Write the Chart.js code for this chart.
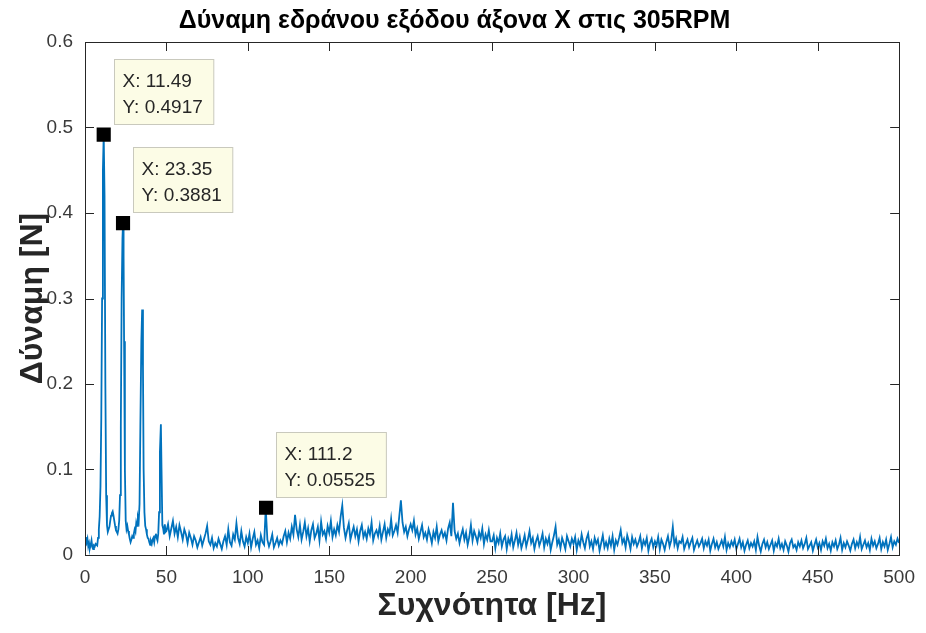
<!DOCTYPE html>
<html>
<head>
  <meta charset="utf-8" />
  <title>Δύναμη εδράνου</title>
  <script src="https://cdn.jsdelivr.net/npm/chart.js"></script>
  <style>
    html, body {
      margin: 0;
      padding: 0;
      background: #fff;
    }
  </style>
</head>
<body>
  <canvas id="fft" width="926" height="633"></canvas>

  <script>
    // Low range 0-50 Hz, read point by point (includes the 4 harmonics)
    const lowFreq = [
      0, 0.5, 1, 1.5, 2, 2.5, 3, 3.5, 4, 4.5, 5, 5.5, 6, 6.5, 7, 7.5, 8, 8.5, 9, 9.5,
      10, 10.5, 11, 11.49, 12, 12.5, 13, 13.5, 14, 14.5, 15, 15.5, 16, 16.5, 17, 17.5, 18, 18.5, 19, 19.5,
      20, 20.5, 21, 21.5, 22, 22.5, 23, 23.35, 23.7, 24, 24.5, 25, 25.5, 26, 26.5, 27, 27.5, 28, 28.5, 29, 29.5,
      30, 30.5, 31, 31.5, 32, 32.5, 33, 33.5, 34, 34.6, 35.1, 35.6, 36, 36.5, 37, 37.5, 38, 38.5, 39, 39.5,
      40, 40.5, 41, 41.5, 42, 42.5, 43, 43.5, 44, 44.5, 45, 45.5, 46, 46.6, 47, 47.5, 48, 48.5, 49, 49.5
    ];
    const lowAmp = [
      0.012, 0.021, 0.015, 0.019, 0.010, 0.014, 0.008, 0.012, 0.017, 0.009, 0.007, 0.011, 0.010, 0.013, 0.012, 0.011, 0.020, 0.030, 0.045, 0.080,
      0.160, 0.300, 0.450, 0.4917, 0.420, 0.200, 0.070, 0.035, 0.027, 0.030, 0.033, 0.040, 0.046, 0.049, 0.051, 0.046, 0.040, 0.034, 0.029, 0.027,
      0.025, 0.030, 0.040, 0.070, 0.150, 0.300, 0.370, 0.3881, 0.350, 0.250, 0.100, 0.040, 0.030, 0.034, 0.028, 0.024, 0.019, 0.015, 0.018, 0.022, 0.020,
      0.025, 0.030, 0.027, 0.038, 0.034, 0.044, 0.040, 0.060, 0.150, 0.250, 0.287, 0.220, 0.100, 0.050, 0.034, 0.030, 0.024, 0.020, 0.019, 0.015,
      0.012, 0.016, 0.013, 0.018, 0.020, 0.015, 0.022, 0.025, 0.020, 0.017, 0.025, 0.050, 0.120, 0.153, 0.100, 0.035, 0.031, 0.024, 0.036, 0.027
    ];

    // Noise floor 50-500 Hz, one value per Hz, in thousandths of N
    const noiseStartHz = 50;
    const noiseStepHz = 1;
    const noiseMilli = [
      28, 36, 22, 31, 40, 25, 33, 21, 35, 27,
      18, 30, 24, 14, 26, 20, 12, 22, 17, 9,
      15, 21, 11, 18, 25, 34, 16, 12, 20, 8,
      14, 10, 19, 13, 7, 16, 22, 12, 30, 15,
      11, 24, 18, 37, 20, 13, 28, 16, 10, 21,
      14, 25, 9, 19, 27, 12, 17, 8, 23, 15,
      12, 55, 18, 10, 16, 24, 9, 14, 20, 11,
      17, 13, 22, 28, 15, 26, 19, 33, 24, 47,
      30, 21, 35, 18, 27, 38, 22, 31, 16, 29,
      36, 20, 25, 33, 17, 39, 24, 28, 19, 34,
      26, 40, 21, 30, 23, 35, 27, 45, 58, 32,
      20, 29, 37, 18, 26, 33, 22, 30, 16, 28,
      35, 21, 27, 19, 31, 24, 38, 17, 25, 29,
      22, 34, 18, 27, 36, 20, 30, 25, 42, 23,
      28, 35, 26, 45, 64, 38, 27, 33, 22, 30,
      36, 29, 40, 24, 31, 19, 27, 35, 21, 26,
      18, 30, 23, 14, 27, 20, 33, 16, 24, 29,
      21, 26, 17, 31, 38, 22, 61, 28, 19, 25,
      14, 23, 30, 18, 26, 12, 21, 35, 17, 28,
      22, 15, 27, 20, 31, 13, 24, 18, 29, 16,
      16, 23, 8, 20, 14, 25, 10, 18, 22, 7,
      19, 13, 24, 9, 17, 26, 12, 21, 8, 15,
      23, 10, 18, 28, 14, 20, 7, 16, 22, 11,
      17, 25, 9, 19, 13, 21, 6, 15, 23, 33,
      12, 18, 8, 20, 14, 7, 22, 16, 10, 19,
      13, 21, 6, 17, 11, 24, 15, 8, 19, 25,
      10, 16, 7, 20, 13, 18, 5, 14, 23, 9,
      15, 8, 19, 11, 22, 6, 17, 12, 20, 29,
      14, 19, 9, 23, 16, 7, 21, 13, 18, 10,
      15, 22, 8, 17, 12, 20, 5, 14, 19, 9,
      16, 11, 21, 7, 18, 13, 6, 15, 22, 10,
      17, 33, 12, 19, 8, 16, 14, 21, 7, 13,
      18, 9, 15, 20, 6, 12, 17, 10, 14, 19,
      8, 16, 11, 18, 5, 13, 19, 9, 15, 7,
      12, 17, 10, 21, 6, 14, 9, 16, 11, 18,
      7, 13, 19, 9, 15, 5, 12, 17, 8, 14,
      10, 16, 6, 21, 11, 4, 13, 18, 9, 15,
      7, 12, 17, 5, 14, 10, 19, 8, 13, 6,
      16, 11, 4, 14, 18, 9, 12, 6, 15, 10,
      17, 8, 13, 20, 7, 11, 15, 5, 12, 18,
      9, 14, 6, 16, 11, 19, 8, 13, 5, 15,
      10, 17, 7, 12, 20, 6, 14, 9, 16, 11,
      5, 13, 18, 8, 15, 10, 21, 7, 12, 17,
      9, 14, 6, 19, 11, 16, 8, 13, 20, 7,
      15, 10, 18, 6, 13, 21, 9, 16, 12, 19,
      14
    ];

    // Data tips
    const tipFreq = [11.49, 23.35, 111.2];
    const tipAmp = [0.4917, 0.3881, 0.05525];

    const xTicks = [0, 50, 100, 150, 200, 250, 300, 350, 400, 450, 500];
    const yTicks = [0, 0.1, 0.2, 0.3, 0.4, 0.5, 0.6];

    const FONT = "'Liberation Sans', Arial, sans-serif";
    const AXIS_COLOR = '#262626';

    const spectrum = lowFreq.map((f, i) => ({ x: f, y: lowAmp[i] }))
      .concat(noiseMilli.map((v, i) => ({ x: noiseStartHz + i * noiseStepHz, y: v / 1000 })));
    const tipPoints = tipFreq.map((f, i) => ({ x: f, y: tipAmp[i] }));

    // box + inward ticks like MATLAB
    const axesBox = {
      id: 'axesBox',
      afterDatasetsDraw(chart) {
        const { ctx, chartArea: a, scales: { x, y } } = chart;
        const len = 9;
        ctx.save();
        ctx.strokeStyle = AXIS_COLOR;
        ctx.lineWidth = 1;
        ctx.beginPath();
        xTicks.forEach(t => {
          const px = Math.round(x.getPixelForValue(t)) + 0.5;
          ctx.moveTo(px, a.bottom); ctx.lineTo(px, a.bottom - len);
          ctx.moveTo(px, a.top); ctx.lineTo(px, a.top + len);
        });
        yTicks.forEach(t => {
          const py = Math.round(y.getPixelForValue(t)) + 0.5;
          ctx.moveTo(a.left, py); ctx.lineTo(a.left + len, py);
          ctx.moveTo(a.right, py); ctx.lineTo(a.right - len, py);
        });
        ctx.stroke();
        ctx.strokeRect(Math.round(a.left) + 0.5, Math.round(a.top) + 0.5,
          Math.round(a.right - a.left), Math.round(a.bottom - a.top));
        ctx.restore();
      }
    };

    // data tip boxes
    const dataTips = {
      id: 'dataTips',
      afterDraw(chart) {
        const { ctx, scales: { x, y } } = chart;
        ctx.save();
        ctx.font = '19px ' + FONT;
        ctx.textBaseline = 'middle';
        tipPoints.forEach(p => {
          const px = x.getPixelForValue(p.x);
          const py = y.getPixelForValue(p.y);
          const l1 = 'X: ' + p.x.toPrecision(4);
          const l2 = 'Y: ' + p.y.toPrecision(4);
          const w = Math.max(ctx.measureText(l1).width, ctx.measureText(l2).width) + 19;
          const left = Math.round(px + 10) + 0.5;
          const top = Math.round(py - 76) + 0.5;
          ctx.fillStyle = '#fcfce6';
          ctx.strokeStyle = '#c9c9bd';
          ctx.lineWidth = 1;
          ctx.fillRect(left, top, w, 65);
          ctx.strokeRect(left, top, w, 65);
          ctx.fillStyle = '#262626';
          ctx.fillText(l1, left + 8, top + 22);
          ctx.fillText(l2, left + 8, top + 48);
        });
        ctx.restore();
      }
    };

    new Chart(document.getElementById('fft'), {
      type: 'line',
      data: {
        datasets: [
          {
            type: 'scatter',
            data: tipPoints,
            pointStyle: 'rect',
            pointRadius: 10,
            pointBackgroundColor: '#000',
            pointBorderWidth: 0,
            order: 0
          },
          {
            data: spectrum,
            borderColor: '#0072BD',
            borderWidth: 1.8,
            pointRadius: 0,
            tension: 0,
            order: 1
          }
        ]
      },
      options: {
        responsive: false,
        animation: false,
        events: [],
        layout: { padding: { top: 0, right: 17, bottom: 0, left: 0 } },
        plugins: {
          legend: { display: false },
          tooltip: { enabled: false },
          title: {
            display: true,
            text: 'Δύναμη εδράνου εξόδου άξονα X στις 305RPM',
            color: '#000',
            font: { family: FONT, size: 25, weight: 'bold', lineHeight: 1.2 },
            padding: { top: 6, bottom: 6 }
          }
        },
        scales: {
          x: {
            type: 'linear',
            min: 0,
            max: 500,
            afterFit: s => { s.height = 78; },
            afterBuildTicks: s => { s.ticks = xTicks.map(v => ({ value: v })); },
            grid: { display: false, drawTicks: false, tickLength: 0 },
            border: { display: false },
            ticks: {
              color: '#3a3a3a',
              font: { family: FONT, size: 19 },
              padding: 11,
              maxRotation: 0,
              autoSkip: false
            },
            title: {
              display: true,
              text: 'Συχνότητα [Hz]',
              color: '#262626',
              font: { family: FONT, size: 32, weight: 'bold', lineHeight: 1.2 },
              padding: { top: 0, bottom: 8 }
            }
          },
          y: {
            min: 0,
            max: 0.6,
            afterFit: s => { s.width = 85; },
            afterBuildTicks: s => { s.ticks = yTicks.map(v => ({ value: v })); },
            grid: { display: false, drawTicks: false, tickLength: 0 },
            border: { display: false },
            ticks: {
              color: '#3a3a3a',
              font: { family: FONT, size: 19 },
              padding: 12,
              callback: v => String(+v.toFixed(1))
            },
            title: {
              display: true,
              text: 'Δύναμη [N]',
              color: '#262626',
              font: { family: FONT, size: 32, weight: 'bold', lineHeight: 1.2 },
              padding: { top: 14, bottom: 0 }
            }
          }
        }
      },
      plugins: [axesBox, dataTips]
    });
  </script>
</body>
</html>
